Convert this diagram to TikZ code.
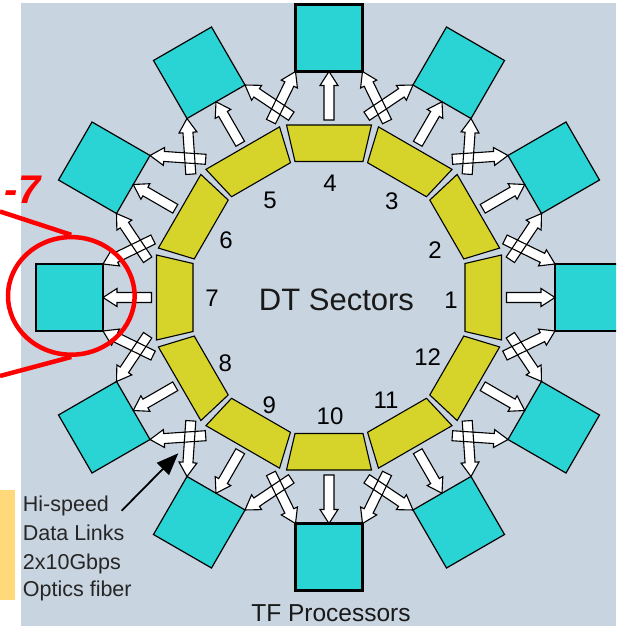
\documentclass[tikz,border=0pt]{standalone}
\usepackage{fontspec}
\setmainfont{Liberation Sans}
\usetikzlibrary{calc,arrows.meta,shapes.geometric}
\definecolor{bgc}{RGB}{200,212,224}
\definecolor{tfc}{RGB}{43,212,212}
\definecolor{dtc}{RGB}{214,212,42}
\definecolor{notec}{RGB}{255,217,122}
\definecolor{redc}{RGB}{255,0,0}
\newcommand\linkarrow[3]{%
  \coordinate (la-n) at ($(#3)!14pt!(#2)$);
  \path[#1] ($(#2)!5pt!90:(#3)$) -- ($(la-n)!5pt!90:(#3)$) -- ($(la-n)!9pt!90:(#3)$)
    -- (#3) -- ($(la-n)!9pt!-90:(#3)$) -- ($(la-n)!5pt!-90:(#3)$) -- ($(#2)!5pt!-90:(#3)$) -- cycle;
}
\begin{document}
\begin{tikzpicture}[x=1pt,y=1pt,
  tfbox/.style={draw=black, fill=tfc, minimum size=67pt, inner sep=0pt, outer sep=0pt, line width=1.2pt},
  tfboxaxis/.style={tfbox, line width=2.2pt},
  dtsector/.style={draw=black, fill=dtc, line width=1.1pt, line join=miter},
  linkfill/.style={fill=white},
  linkline/.style={draw=black, line width=1.1pt, line join=miter},
  num/.style={font=\fontsize{24}{24}\selectfont, inner sep=0pt},
  notetext/.style={font=\fontsize{21.5}{24}\selectfont, inner sep=0pt, anchor=base west, text=black!85},
]
\useasboundingbox (0,0) rectangle (616,-626);
\clip (0,0) rectangle (616,-626);
\fill[bgc] (21,-3) rectangle (616,-626);
\coordinate (C) at (329,-297.5);

% TF processor boxes
\foreach \i in {1,...,12} {
  \pgfmathsetmacro\ang{(\i-1)*30}
  \pgfmathsetmacro\rot{(\i-1)*30-90}
  \pgfmathtruncatemacro\m{mod(\i-1,3)}
  \ifnum\m=0 \def\bst{tfboxaxis}\else\def\bst{tfbox}\fi
  \node[\bst, rotate=\rot] (b\i) at ($(C)+(\ang:259.5)$) {};
}

% DT sectors
\foreach \i in {1,...,12} {
  \pgfmathsetmacro\ang{(\i-1)*30}
  \begin{scope}[shift={(C)}, rotate=\ang]
    \draw[dtsector] (172.5,42.5) -- (172.5,-42.5) -- (136,-34) -- (136,34) -- cycle;
  \end{scope}
  \coordinate (s\i) at ($(C)+(\ang:177.5)$);
}

% crossing points and tails
\foreach \i in {1,...,12} {
  \pgfmathsetmacro\ang{(\i-1)*30+15}
  \pgfmathtruncatemacro\j{mod(\i,12)+1}
  \coordinate (x\i) at ($(C)+(\ang:197)$);
  \coordinate (ta\i) at ($(x\i)!-16pt!(b\j.south east)$);
  \coordinate (tb\i) at ($(x\i)!-16pt!(b\i.south west)$);
}

% data links: fills first, then outlines
\foreach \pass in {linkfill,linkline} {
  \foreach \i in {1,...,12} {
    \pgfmathtruncatemacro\j{mod(\i,12)+1}
    \linkarrow{\pass}{s\i}{b\i.south}
    \linkarrow{\pass}{ta\i}{b\j.south east}
    \linkarrow{\pass}{tb\i}{b\i.south west}
  }
}

% sector numbers
\node[num] (n1) at (451,-300) {1};
\node[num] (n2) at (435,-250) {2};
\node[num] (n3) at (391.7,-201.7) {3};
\node[num] (n4) at (330,-183) {4};
\node[num] (n5) at (270,-200) {5};
\node[num] (n6) at (226,-240) {6};
\node[num] (n7) at (212,-298) {7};
\node[num] (n8) at (225.3,-363.3) {8};
\node[num] (n9) at (269.3,-405) {9};
\node[num] (n10) at (330,-416.7) {10};
\node[num] (n11) at (386,-400) {11};
\node[num] (n12) at (427.7,-356.7) {12};

\node[font=\fontsize{31}{31}\selectfont, inner sep=0pt, anchor=base, text=black!90] (dt) at (336.5,-310) {DT Sectors};
\node[font=\fontsize{24.5}{26}\selectfont, inner sep=0pt, anchor=base, text=black!90] (tf) at (331,-621) {TF Processors};

% note
\fill[notec] (0,-490) rectangle (15,-600);
\node[notetext] (hs1) at (22.7,-511.7) {Hi-speed};
\node[notetext] (hs2) at (22.7,-540.7) {Data Links};
\node[notetext] (hs3) at (22.7,-569) {2x10Gbps};
\node[notetext] (hs4) at (22.7,-596.7) {Optics fiber};
\coordinate (ptail) at (121.7,-510.7);
\coordinate (ptip) at (178.3,-453.3);
\draw[line width=1.8pt, -{Triangle[length=22pt,width=17pt]}] (ptail) -- (ptip);

% red callout
\node[draw=redc, line width=4.5pt, ellipse, minimum width=126.6pt, minimum height=117.6pt, inner sep=0pt] (ell) at (71.3,-295.9) {};
\coordinate (lu) at (0,-211.5);
\coordinate (ll) at (0,-376);
\draw[redc, line width=4.5pt] (lu) -- (ell.north);
\draw[redc, line width=4.5pt] (ll) -- (ell.south);
\node[font=\fontsize{40}{40}\selectfont\bfseries\itshape, inner sep=0pt, anchor=base east, text=redc] (r7) at (40.5,-203) {-7};
\end{tikzpicture}
\end{document}
